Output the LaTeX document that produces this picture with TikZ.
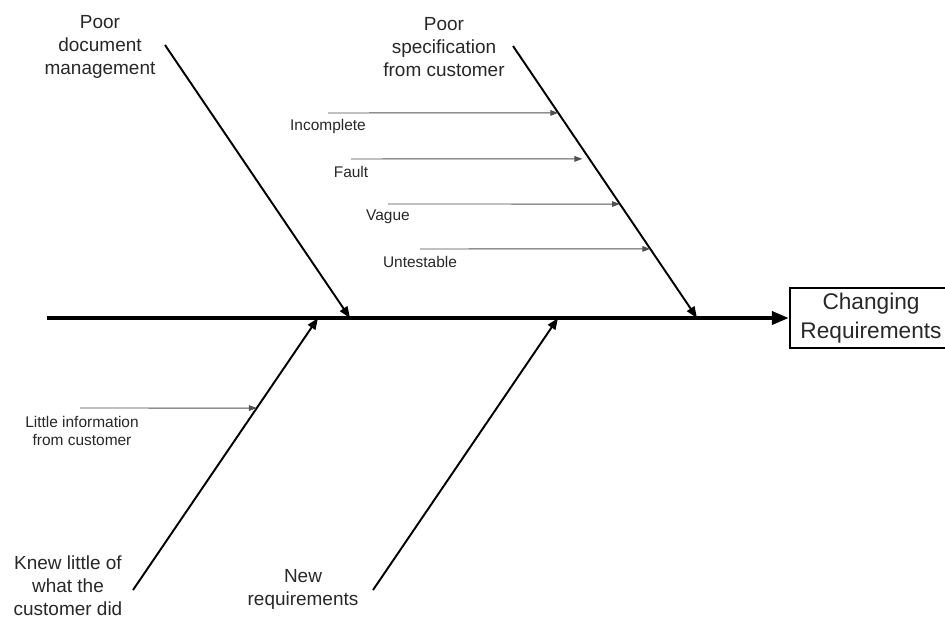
\documentclass[tikz,border=0pt]{standalone}
\usepackage{fontspec}
\setmainfont{Liberation Sans}
\usepackage{tikz}
\usetikzlibrary{arrows.meta,positioning,calc}
\definecolor{inkgray}{RGB}{40, 40, 40}
\definecolor{twiggray}{RGB}{80, 80, 80}

\begin{document}
\begin{tikzpicture}[
  x=0.02cm, y=-0.02cm,
  effectbox/.style={rectangle, draw=black, line width=1.6pt, minimum width=3.24cm, minimum height=1.2cm, align=center, inner sep=0pt, font=\fontsize{12.9}{16.5}\selectfont, text=inkgray},
  causelabel/.style={align=center, inner sep=0pt, font=\fontsize{10.8}{13.1}\selectfont, text=inkgray},
  twiglabel/.style={align=center, inner sep=0pt, font=\fontsize{8.8}{10.3}\selectfont, text=inkgray},
  spine/.style={-{Triangle[length=9.5pt,width=7.5pt]}, line width=1.8pt},
  bone/.style={-{Triangle[length=6.5pt,width=5pt]}, line width=1.1pt},
  twig/.style={-{Triangle[length=4.5pt,width=3.2pt]}, line width=0.55pt, color=twiggray}
]
\useasboundingbox (0,0) rectangle (945,618);
\fill[white] (0,0) rectangle (945,618);

\coordinate (tail) at (47,318);
\node[effectbox] (effect) at (871,318) {Changing\\Requirements};

\coordinate (docstart) at (165,45);
\coordinate (dochead) at (350,318);
\coordinate (specstart) at (513,46);
\coordinate (spechead) at (697,318);
\coordinate (knewstart) at (133,590);
\coordinate (knewhead) at (318,318);
\coordinate (newstart) at (373,590);
\coordinate (newhead) at (558,318);

\node[causelabel] (doc) at (100,47) {Poor\\document\\management};
\node[causelabel] (spec) at (444,47) {Poor\\specification\\from customer};
\node[causelabel] (knew) at (68,586) {Knew little of\\what the\\customer did};
\node[causelabel] (new) at (303,589) {New\\requirements};

\draw[spine] (tail) -- (effect.west);
\draw[bone] (docstart) -- (dochead);
\draw[bone] (specstart) -- (spechead);
\draw[bone] (knewstart) -- (knewhead);
\draw[bone] (newstart) -- (newhead);

\coordinate (incfrom) at (328,113);
\coordinate (faufrom) at (351,159);
\coordinate (vagfrom) at (388,204);
\coordinate (untfrom) at (420,249);
\coordinate (litfrom) at (80,408);
\coordinate (incto) at ($(specstart)!0.246!(spechead)$);
\coordinate (fauto) at ($(specstart)!0.415!(spechead)$);
\coordinate (vagto) at ($(specstart)!0.581!(spechead)$);
\coordinate (untto) at ($(specstart)!0.746!(spechead)$);
\coordinate (litto) at ($(knewstart)!0.669!(knewhead)$);

\node[twiglabel] (inc) at (328,127) {Incomplete};
\node[twiglabel] (fau) at (351,172) {Fault};
\node[twiglabel] (vag) at (388,217) {Vague};
\node[twiglabel] (unt) at (420,262) {Untestable};
\node[twiglabel] (lit) at (82,431) {Little information\\from customer};

\draw[twig] (incfrom) -- (incto);
\draw[twig] (faufrom) -- ([xshift=-4]fauto);
\draw[twig] (vagfrom) -- (vagto);
\draw[twig] (untfrom) -- (untto);
\draw[twig] (litfrom) -- (litto);
\end{tikzpicture}
\end{document}
